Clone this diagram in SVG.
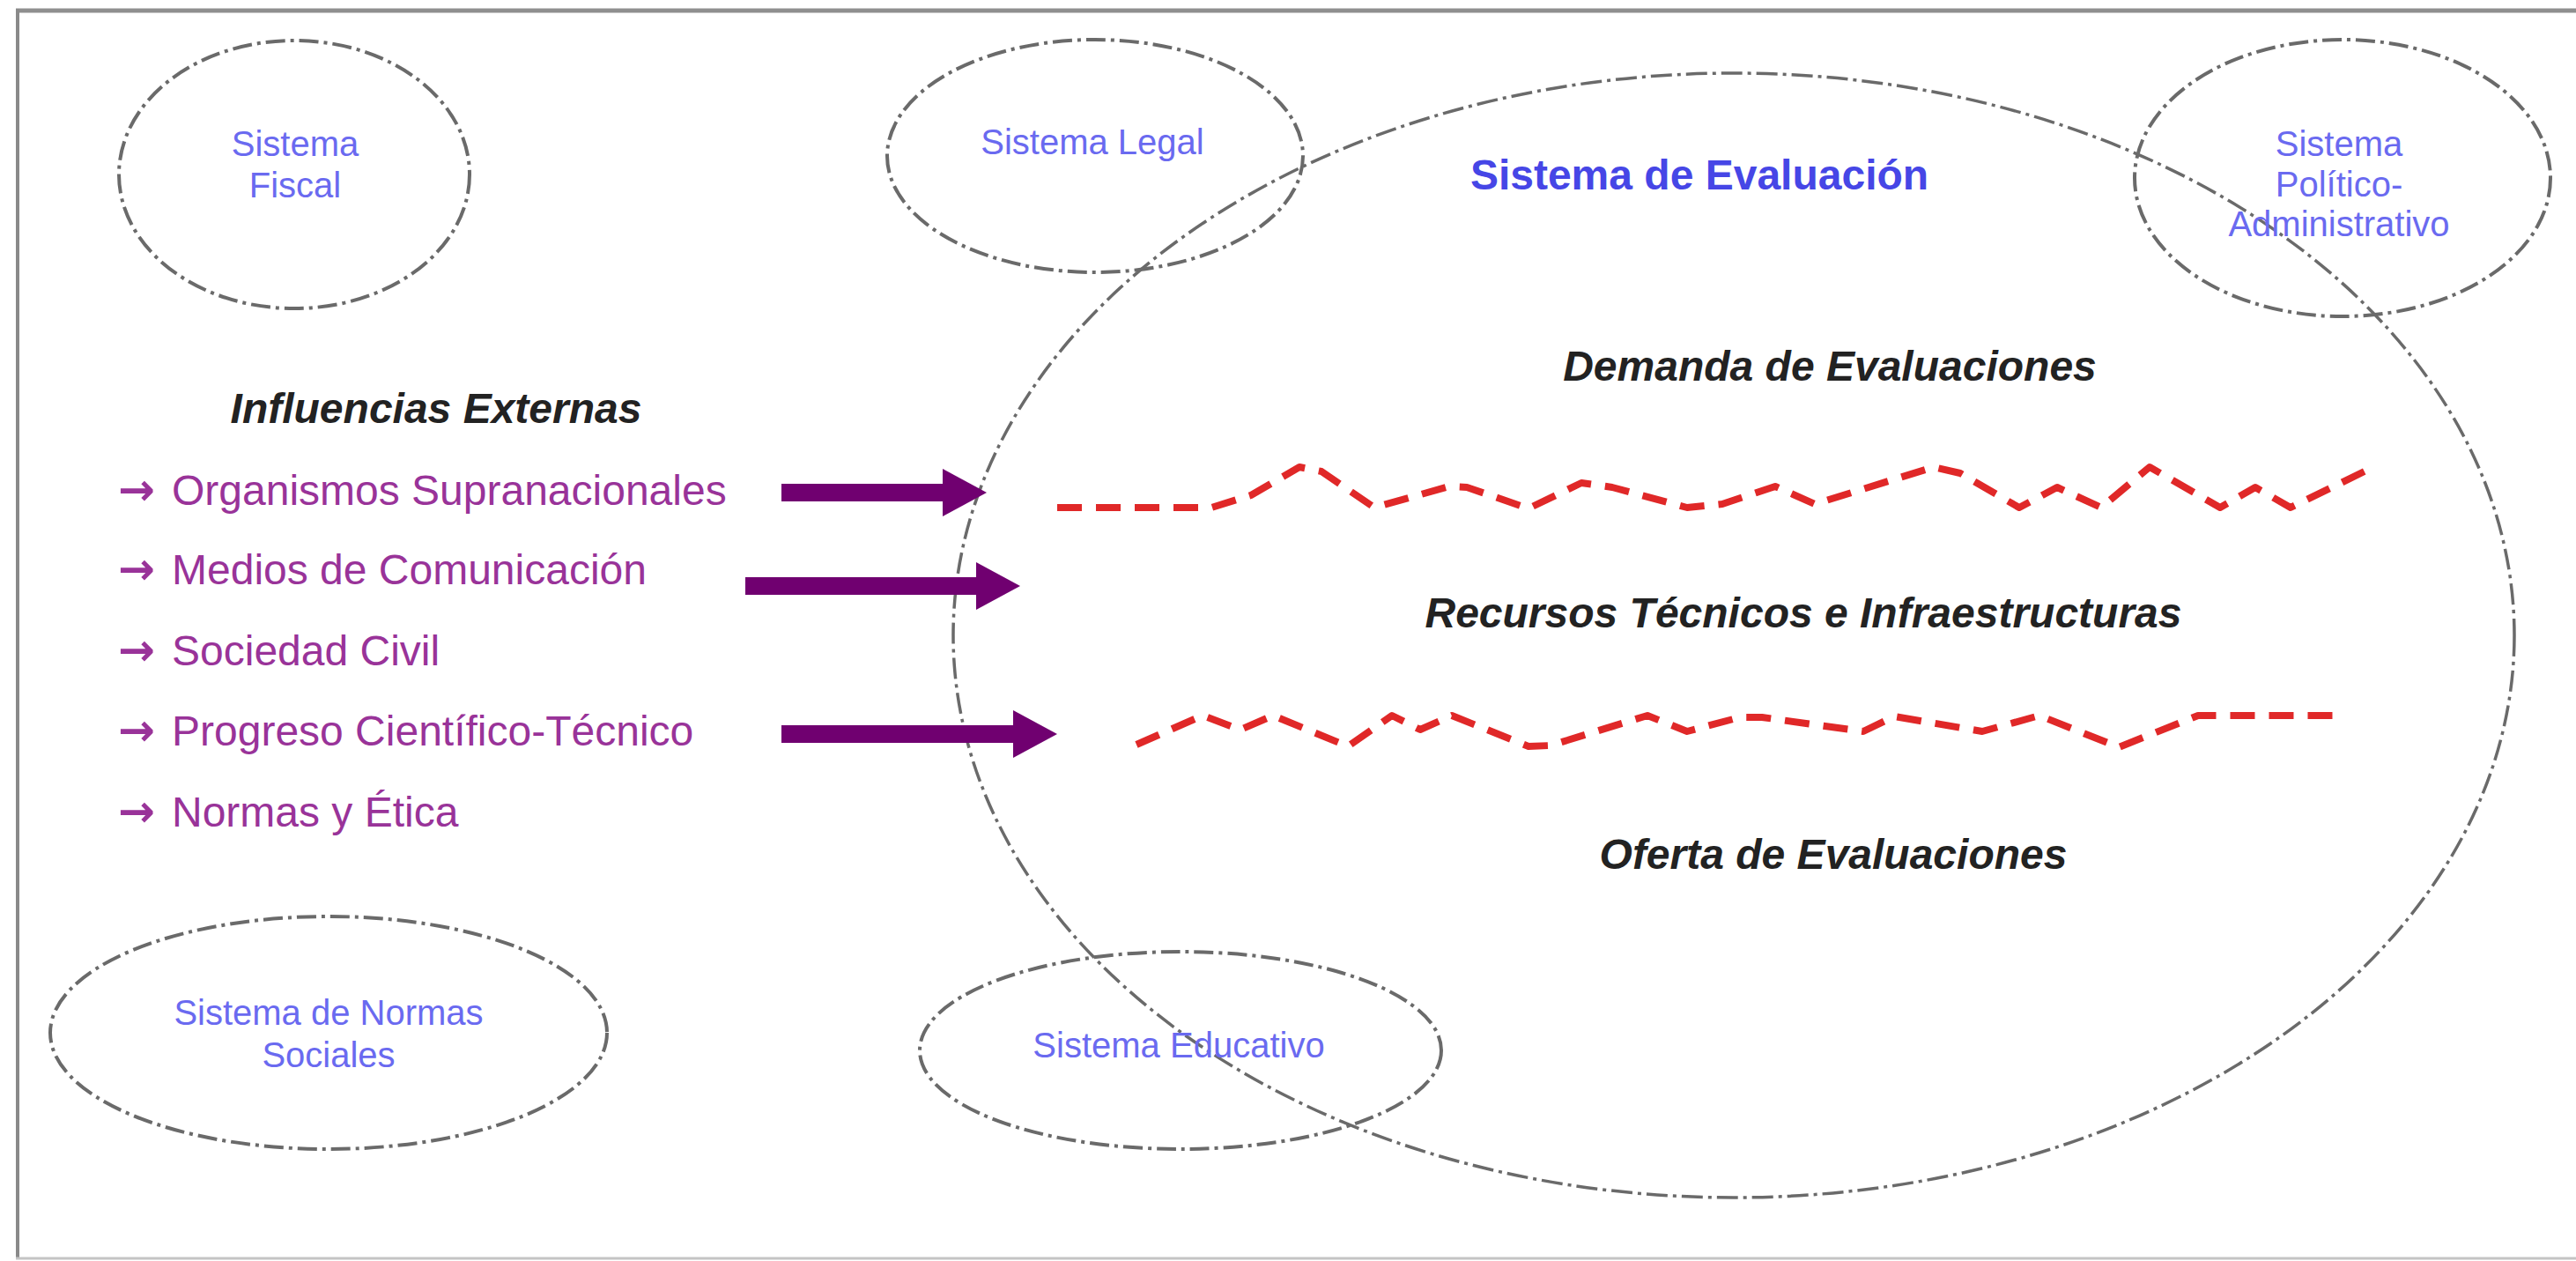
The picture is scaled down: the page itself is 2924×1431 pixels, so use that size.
<svg xmlns="http://www.w3.org/2000/svg" width="2924" height="1431" viewBox="0 0 2924 1431">
<defs>
<style>
.sys{fill:none;stroke:#6a6a6a;stroke-width:4;stroke-dasharray:22 6 4 6}
.big{fill:none;stroke:#6a6a6a;stroke-width:3.5;stroke-dasharray:24 6 4 6}
.lbl{font-family:"Liberation Sans",Arial,sans-serif;font-size:40px;fill:#6a6af0;text-anchor:middle}
.title{font-family:"Liberation Sans",Arial,sans-serif;font-size:48px;font-weight:bold;fill:#4646e6;text-anchor:middle}
.hdr{font-family:"Liberation Sans",Arial,sans-serif;font-size:48px;font-weight:bold;font-style:italic;fill:#222;text-anchor:middle}
.item{font-family:"Liberation Sans",Arial,sans-serif;font-size:48px;fill:#993399}
.bul{font-family:"DejaVu Sans",sans-serif;font-size:50px;font-weight:bold}
.wave{fill:none;stroke:#e02828;stroke-width:8;stroke-dasharray:28 16;stroke-linejoin:round}
.arr{stroke:#700070;stroke-width:20;fill:none}
</style>
<marker id="head" markerUnits="userSpaceOnUse" markerWidth="52" markerHeight="60" refX="0" refY="30" orient="auto" viewBox="0 0 52 60">
<path d="M0,3 L50,30 L0,57 Z" fill="#700070"/>
</marker>
</defs>
<rect x="0" y="0" width="2924" height="1431" fill="#ffffff"/>
<g id="frame">
<line x1="18" y1="12" x2="2924" y2="12" stroke="#8f8f8f" stroke-width="5"/>
<line x1="20" y1="10" x2="20" y2="1429" stroke="#8a8a8a" stroke-width="4"/>
<line x1="18" y1="1428" x2="2924" y2="1428" stroke="#c4c4c4" stroke-width="3"/>
</g>
<g id="sistema-evaluacion">
<ellipse class="big" cx="1968" cy="721" rx="886" ry="638"/>
<text class="title" x="1929" y="215">Sistema de Evaluación</text>
<text class="hdr" x="2077" y="432">Demanda de Evaluaciones</text>
<text class="hdr" x="2047" y="712">Recursos Técnicos e Infraestructuras</text>
<text class="hdr" x="2081" y="986">Oferta de Evaluaciones</text>
</g>
<g id="separadores">
<path class="wave" d="M1200,576 L1375,576 L1420,562 L1475,530 L1500,535 L1560,576 L1645,552 L1665,553 L1735,577 L1795,548 L1830,553 L1915,576 L1955,572 L2015,552 L2060,572 L2195,530 L2225,537 L2292,576 L2335,553 L2385,576 L2440,530 L2520,576 L2560,553 L2600,576 L2698,528"/>
<path class="wave" d="M1290,845 L1365,812 L1408,828 L1445,812 L1530,847 L1580,812 L1612,828 L1648,812 L1735,847 L1760,846 L1870,812 L1915,830 L1975,814 L2000,814 L2115,830 L2150,813 L2250,830 L2315,812 L2405,848 L2495,812 L2660,812"/>
</g>
<g id="sistema-fiscal">
<ellipse class="sys" cx="334" cy="198" rx="199" ry="152"/>
<text class="lbl" x="335" y="177">Sistema</text>
<text class="lbl" x="335" y="224">Fiscal</text>
</g>
<g id="sistema-legal">
<ellipse class="sys" cx="1243" cy="177" rx="236" ry="132"/>
<text class="lbl" x="1240" y="175">Sistema Legal</text>
</g>
<g id="sistema-politico">
<ellipse class="sys" cx="2659" cy="202" rx="236" ry="157"/>
<text class="lbl" x="2655" y="177">Sistema</text>
<text class="lbl" x="2655" y="223">Político-</text>
<text class="lbl" x="2655" y="268">Administrativo</text>
</g>
<g id="sistema-normas">
<ellipse class="sys" cx="373" cy="1172" rx="316" ry="132"/>
<text class="lbl" x="373" y="1163">Sistema de Normas</text>
<text class="lbl" x="373" y="1211">Sociales</text>
</g>
<g id="sistema-educativo">
<ellipse class="sys" cx="1340" cy="1192" rx="296" ry="112"/>
<text class="lbl" x="1338" y="1200">Sistema Educativo</text>
</g>
<g id="influencias">
<text class="hdr" x="495" y="480">Influencias Externas</text>
<text class="item" y="573"><tspan class="bul" x="134">→</tspan><tspan x="195">Organismos Supranacionales</tspan></text>
<text class="item" y="663"><tspan class="bul" x="134">→</tspan><tspan x="195">Medios de Comunicación</tspan></text>
<text class="item" y="755"><tspan class="bul" x="134">→</tspan><tspan x="195">Sociedad Civil</tspan></text>
<text class="item" y="846"><tspan class="bul" x="134">→</tspan><tspan x="195">Progreso Científico-Técnico</tspan></text>
<text class="item" y="938"><tspan class="bul" x="134">→</tspan><tspan x="195">Normas y Ética</tspan></text>
</g>
<g id="conectores">
<line class="arr" x1="887" y1="559" x2="1070" y2="559" marker-end="url(#head)"/>
<line class="arr" x1="846" y1="665" x2="1108" y2="665" marker-end="url(#head)"/>
<line class="arr" x1="887" y1="833" x2="1150" y2="833" marker-end="url(#head)"/>
</g>
</svg>
